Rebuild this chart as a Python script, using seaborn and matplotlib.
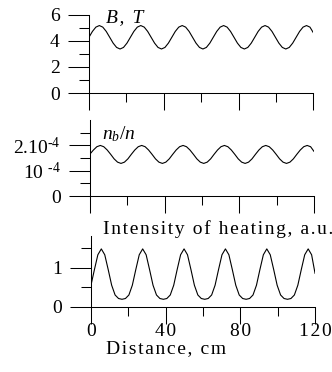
import matplotlib
matplotlib.use("Agg")
import matplotlib.pyplot as plt
import seaborn as sns
import pandas as pd

# Distance along the device, cm
distance = [
    0.00, 1.85, 3.69, 5.54, 7.38, 9.23, 11.08, 12.92, 14.77, 16.62, 18.46, 20.31,
    22.15, 24.00, 25.85, 27.69, 29.54, 31.38, 33.23, 35.08, 36.92, 38.77, 40.62, 42.46,
    44.31, 46.15, 48.00, 49.85, 51.69, 53.54, 55.38, 57.23, 59.08, 60.92, 62.77, 64.62,
    66.46, 68.31, 70.15, 72.00, 73.85, 75.69, 77.54, 79.38, 81.23, 83.08, 84.92, 86.77,
    88.62, 90.46, 92.31, 94.15, 96.00, 97.85, 99.69, 101.54, 103.38, 105.23, 107.08, 108.92,
    110.77, 112.62, 114.46, 116.31, 118.15, 120.00,
]

# Magnetic field B, T
b_field = [
    4.28, 4.73, 5.06, 5.18, 5.06, 4.73, 4.28, 3.83, 3.50, 3.38, 3.50, 3.83,
    4.28, 4.73, 5.06, 5.18, 5.06, 4.73, 4.28, 3.83, 3.50, 3.38, 3.50, 3.83,
    4.28, 4.73, 5.06, 5.18, 5.06, 4.73, 4.28, 3.83, 3.50, 3.38, 3.50, 3.83,
    4.28, 4.73, 5.06, 5.18, 5.06, 4.73, 4.28, 3.83, 3.50, 3.38, 3.50, 3.83,
    4.28, 4.73, 5.06, 5.18, 5.06, 4.73, 4.28, 3.83, 3.50, 3.38, 3.50, 3.83,
    4.28, 4.73, 5.06, 5.18, 5.06, 4.62,
]

# n_b/n in units of 1e-4
nb_ratio = [
    1.66, 1.82, 1.95, 2.00, 1.95, 1.82, 1.65, 1.47, 1.34, 1.29, 1.34, 1.47,
    1.65, 1.82, 1.95, 2.00, 1.95, 1.82, 1.65, 1.47, 1.34, 1.29, 1.34, 1.47,
    1.65, 1.82, 1.95, 2.00, 1.95, 1.82, 1.65, 1.47, 1.34, 1.29, 1.34, 1.47,
    1.65, 1.82, 1.95, 2.00, 1.95, 1.82, 1.65, 1.47, 1.34, 1.29, 1.34, 1.47,
    1.65, 1.82, 1.95, 2.00, 1.95, 1.82, 1.65, 1.47, 1.34, 1.29, 1.34, 1.47,
    1.65, 1.82, 1.95, 2.00, 1.95, 1.76,
]

# Intensity of heating, a.u.
heating = [
    0.55, 0.95, 1.33, 1.48, 1.33, 0.95, 0.55, 0.30, 0.21, 0.19, 0.21, 0.30,
    0.55, 0.95, 1.33, 1.48, 1.33, 0.95, 0.55, 0.30, 0.21, 0.19, 0.21, 0.30,
    0.55, 0.95, 1.33, 1.48, 1.33, 0.95, 0.55, 0.30, 0.21, 0.19, 0.21, 0.30,
    0.55, 0.95, 1.33, 1.48, 1.33, 0.95, 0.55, 0.30, 0.21, 0.19, 0.21, 0.30,
    0.55, 0.95, 1.33, 1.48, 1.33, 0.95, 0.55, 0.30, 0.21, 0.19, 0.21, 0.30,
    0.55, 0.95, 1.33, 1.48, 1.33, 0.85,
]

x_ticks = [0, 40, 80, 120]
x_minor = [20, 60, 100]

data = pd.DataFrame({"distance": distance, "B": b_field,
                     "nb": nb_ratio, "heat": heating})

sns.set_style("ticks")
plt.rcParams["font.family"] = ["Liberation Serif", "DejaVu Serif"]
plt.rcParams["mathtext.fontset"] = "custom"
plt.rcParams["mathtext.rm"] = "Liberation Serif"
plt.rcParams["mathtext.it"] = "Liberation Serif:italic"
plt.rcParams["axes.edgecolor"] = "black"
plt.rcParams["axes.linewidth"] = 0.75
plt.rcParams["text.color"] = "black"
plt.rcParams["xtick.color"] = "black"
plt.rcParams["ytick.color"] = "black"


def spaced(s):
    return "\u200a".join(s)


fig = plt.figure(figsize=(3.32, 3.72), dpi=100)
ax1 = fig.add_axes([0.268, 0.750, 0.676, 0.210])
ax2 = fig.add_axes([0.271, 0.473, 0.675, 0.204])
ax3 = fig.add_axes([0.274, 0.1755, 0.675, 0.189])

panels = [
    (ax1, "B", (0, 6), [0, 2, 4, 6], ["0", "2", "4", "6"], [1, 3, 5]),
    (ax2, "nb", (0, 3), [0, 1, 2],
     ["0", r"10 $^{\text{-}4}$", r"2.10$^{\text{-}4}$"], [0.5, 1.5, 2.5]),
    (ax3, "heat", (0, 1.8), [0, 1], ["0", "1"], [0.5, 1.5]),
]

for ax, col, ylim, yt, ytl, ymin in panels:
    sns.lineplot(data=data, x="distance", y=col, ax=ax, color="black",
                 linewidth=0.8, estimator=None)
    ax.set_xlim(0, 120)
    ax.set_ylim(*ylim)
    ax.set_xticks(x_ticks)
    ax.set_xticks(x_minor, minor=True)
    ax.set_yticks(yt)
    ax.set_yticklabels(ytl)
    ax.set_yticks(ymin, minor=True)
    ax.set_xlabel("")
    ax.set_ylabel("")
    ax.tick_params(axis="y", which="major", length=15, width=0.75,
                   labelsize=14, pad=6)
    ax.tick_params(axis="y", which="minor", length=7, width=0.75)
    ax.tick_params(axis="x", which="major", length=12, width=0.75,
                   labelsize=14, pad=-0.5)
    ax.tick_params(axis="x", which="minor", length=6.5, width=0.75)
    sns.despine(ax=ax)

ax1.set_xticklabels([])
ax2.set_xticklabels([])
ax3.set_xticklabels([spaced(str(t)) for t in x_ticks])

fig.text(106 / 332, 1 - 22 / 372, spaced("B, T"), fontsize=14,
         fontstyle="italic", va="baseline")
fig.text(102 / 332, 1 - 139 / 372, r"$n_b/n$", fontsize=14, va="baseline")
fig.text(103 / 332, 1 - 234 / 372, spaced("Intensity of heating, a.u."),
         fontsize=14, va="baseline")
fig.text(106 / 332, 1 - 353 / 372, spaced("Distance, cm"), fontsize=14,
         va="baseline")

fig.savefig("out.png", dpi=100)
plt.close(fig)
